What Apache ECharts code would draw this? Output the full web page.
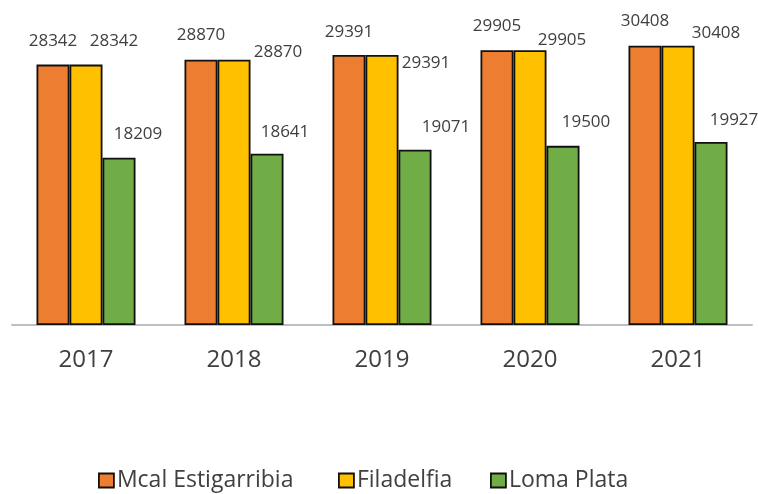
<!DOCTYPE html>
<html>
<head>
<meta charset="utf-8">
<script src="https://cdn.jsdelivr.net/npm/echarts@6/dist/echarts.min.js"></script>
<style>
html,body{margin:0;padding:0;background:#fff;}
#chart{width:758px;height:494px;}
</style>
</head>
<body>
<div id="chart"></div>
<script>
var categories = ['2017', '2018', '2019', '2020', '2021'];
var seriesNames = ['Mcal Estigarribia', 'Filadelfia', 'Loma Plata'];
var mcalValues = [28342, 28870, 29391, 29905, 30408];
var filadelfiaValues = [28342, 28870, 29391, 29905, 30408];
var lomaPlataValues = [18209, 18641, 19071, 19500, 19927];

var colors = ['#ED7D31', '#FFC000', '#70AD47'];
// label nudges (style only), relative to the default "top" position
var labelNudges = [
  [[0,-16],[0,-18],[0,-16],[0,-17],[0,-17]],
  [[28,-16],[44,-1],[44,15],[32,-3],[38,-5]],
  [[19,-17],[18,-15],[31,-16],[23,-17],[23,-15]]
];
var allValues = [mcalValues, filadelfiaValues, lomaPlataValues];

var chart = echarts.init(document.getElementById('chart'), null, {renderer:'canvas'});
var series = seriesNames.map(function(name, si){
  return {
    name: name,
    type: 'bar',
    barWidth: 33,
    barGap: '0%',
    itemStyle: {color: colors[si], borderColor: '#111', borderWidth: 1.8},
    data: allValues[si].map(function(v, i){
      return {value: v, label: {offset: labelNudges[si][i]}};
    }),
    label: {
      show: true, position: 'top', distance: 0,
      fontFamily: 'Open Sans', fontSize: 17, color: '#404040', lineHeight: 14
    }
  };
});
var legendLefts = [98, 338, 490];
chart.setOption({
  animation: false,
  color: colors,
  legend: seriesNames.map(function(n, i){
    return {
      data: [n], left: legendLefts[i], top: 469, padding: 0,
      itemWidth: 15, itemHeight: 14, itemGap: 0,
      icon: 'rect',
      itemStyle: {borderColor: '#111', borderWidth: 1.8},
      textStyle: {fontFamily: 'Open Sans', fontSize: 23, color: '#404040', padding: [0,0,0,-2]}
    };
  }),
  grid: {left: 12, right: 6, top: 31, bottom: 169, containLabel: false},
  xAxis: {
    type: 'category', data: categories,
    axisLine: {lineStyle: {color: '#BFBFBF', width: 2}},
    axisTick: {show: false},
    axisLabel: {fontFamily: 'Open Sans', fontSize: 24, color: '#404040', margin: 23}
  },
  yAxis: {
    type: 'value', min: 0, max: 32000,
    show: false, splitLine: {show: false}
  },
  series: series
});
</script>
</body>
</html>
